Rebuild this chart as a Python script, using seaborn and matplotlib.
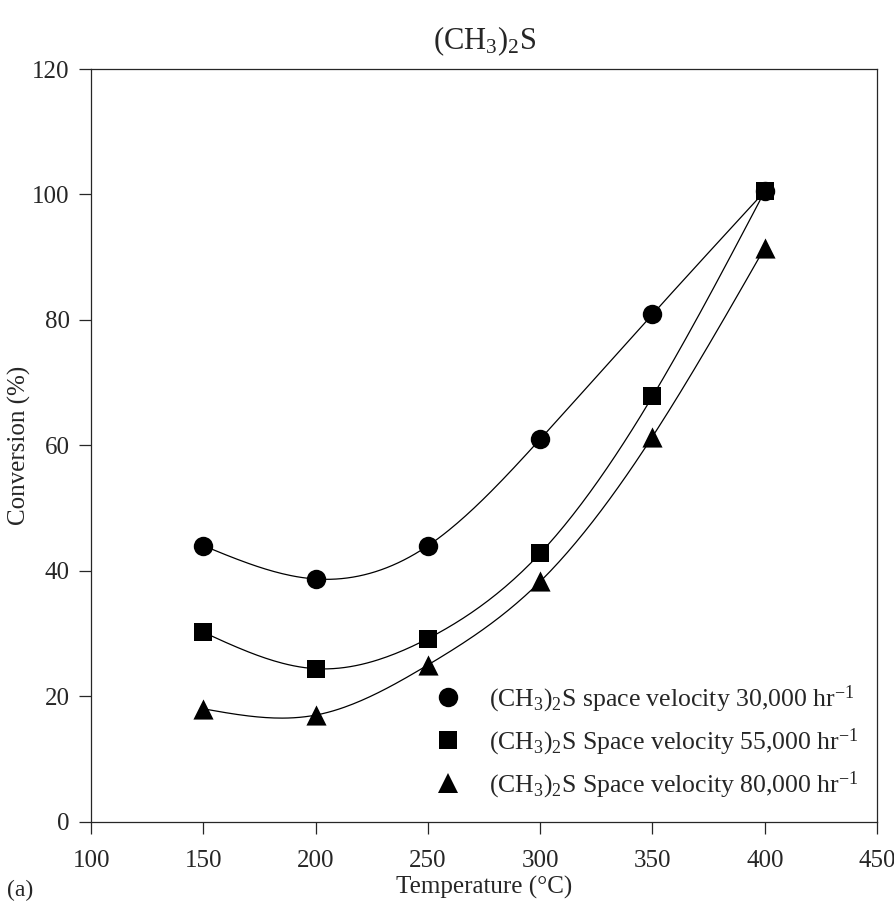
import numpy as np
import pandas as pd
import seaborn as sns
import matplotlib
matplotlib.use("Agg")
import matplotlib.pyplot as plt
from matplotlib.lines import Line2D

# ---------------------------------------------------------------------------
# Data
# ---------------------------------------------------------------------------
temps = [150, 200, 250, 300, 350, 400]
conv_30k = [44.0, 38.7, 44.0, 61.0, 80.9, 100.5]
conv_55k = [30.2, 24.4, 29.2, 42.8, 67.8, 100.5]
conv_80k = [18.0, 17.0, 25.0, 38.3, 61.4, 91.5]

labels = [r"(CH$_3$)$_2$S space velocity 30,000 hr$^{-1}$",
          r"(CH$_3$)$_2$S Space velocity 55,000 hr$^{-1}$",
          r"(CH$_3$)$_2$S Space velocity 80,000 hr$^{-1}$"]
markers = ["o", "s", "^"]
msizes = [14, 12.5, 14.5]
zorders = [5, 4, 3]

x_ticks = [100, 150, 200, 250, 300, 350, 400, 450]
y_ticks = [0, 20, 40, 60, 80, 100, 120]


def natural_spline(x, y, n=200):
    """Natural cubic spline through (x, y), evaluated on a fine grid."""
    x = np.asarray(x, float); y = np.asarray(y, float)
    h = np.diff(x)
    k = len(x)
    A = np.zeros((k, k)); b = np.zeros(k)
    A[0, 0] = A[-1, -1] = 1.0
    for i in range(1, k - 1):
        A[i, i - 1] = h[i - 1]; A[i, i] = 2 * (h[i - 1] + h[i]); A[i, i + 1] = h[i]
        b[i] = 6 * ((y[i + 1] - y[i]) / h[i] - (y[i] - y[i - 1]) / h[i - 1])
    M = np.linalg.solve(A, b)
    xs = np.linspace(x[0], x[-1], n)
    idx = np.clip(np.searchsorted(x, xs) - 1, 0, k - 2)
    x0, x1 = x[idx], x[idx + 1]; hh = x1 - x0
    ys = (M[idx] * (x1 - xs) ** 3 / (6 * hh) + M[idx + 1] * (xs - x0) ** 3 / (6 * hh)
          + (y[idx] / hh - M[idx] * hh / 6) * (x1 - xs)
          + (y[idx + 1] / hh - M[idx + 1] * hh / 6) * (xs - x0))
    return xs, ys


sns.set_style("ticks")
plt.rcParams["font.family"] = ["Liberation Serif", "DejaVu Serif"]
plt.rcParams["mathtext.fontset"] = "custom"
plt.rcParams["mathtext.rm"] = "Liberation Serif"
plt.rcParams["mathtext.it"] = "Liberation Serif:italic"

fig = plt.figure(figsize=(8.94, 9.08), dpi=100)
ax = fig.add_axes([0.102, 0.095, 0.879, 0.829])

handles = []
for ys, mk, ms, zo, lab in zip([conv_30k, conv_55k, conv_80k], markers, msizes, zorders, labels):
    sx, sy = natural_spline(temps, ys)
    sns.lineplot(x=sx, y=sy, ax=ax, color="black", lw=0.9, sort=False, legend=False)
    df = pd.DataFrame({"T": temps, "C": ys})
    sns.scatterplot(data=df, x="T", y="C", ax=ax, marker=mk, s=ms ** 2,
                    color="black", edgecolor="black", linewidth=0, zorder=zo, legend=False)
    handles.append(Line2D([], [], ls="none", marker=mk, markersize=ms,
                          color="black", markeredgewidth=0))

ax.set_xlim(100, 450)
ax.set_ylim(0, 120)
ax.set_xticks(x_ticks)
ax.set_yticks(y_ticks)
ax.tick_params(direction="out", length=8.5, width=0.9, labelsize=18)
ax.tick_params(axis="y", pad=7)
ax.tick_params(axis="x", pad=12)
for sp in ax.spines.values():
    sp.set_linewidth(0.9)
    sp.set_visible(True)

ax.set_xlabel("Temperature (°C)", fontsize=18, labelpad=3)
ax.set_ylabel("Conversion (%)", fontsize=18, labelpad=1)
ax.set_title(r"(CH$_3$)$_2$S", fontsize=22, pad=14)
fig.text(0.008, 0.0198, "(a)", fontsize=17, va="center")

ax.legend(handles, labels, loc="lower right", bbox_to_anchor=(1.0, 0.004),
          frameon=False, fontsize=18.5, handletextpad=1.0, labelspacing=0.45,
          handlelength=1.2, borderaxespad=0.3)

fig.savefig("out.png", dpi=100)
